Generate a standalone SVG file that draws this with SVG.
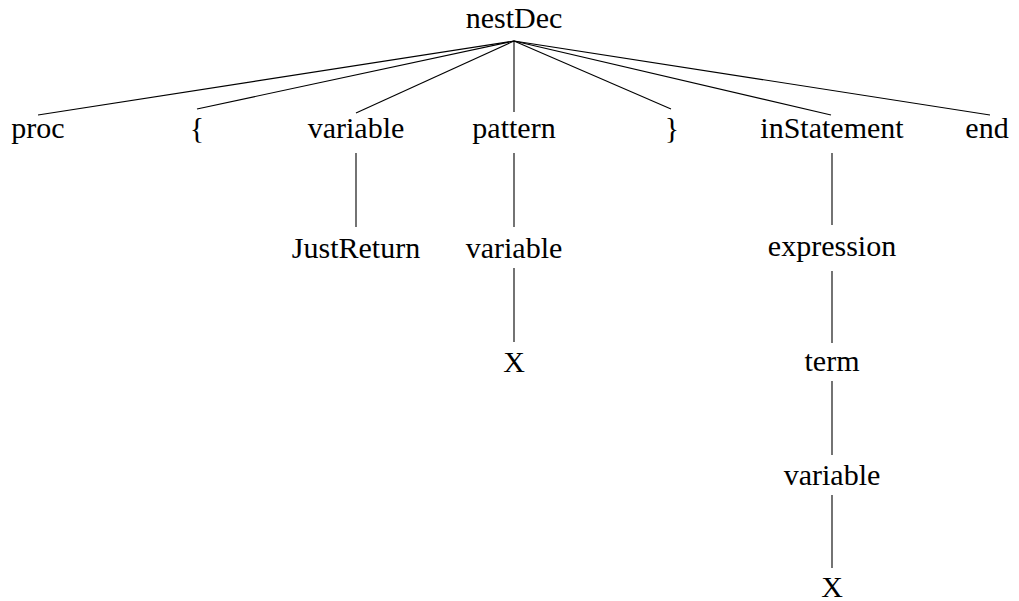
<svg xmlns="http://www.w3.org/2000/svg" width="1019" height="601" viewBox="0 0 1019 601">
<style>
text{font-family:"Liberation Serif","DejaVu Serif",serif;font-size:30px;fill:#000;text-anchor:middle}
.e line{stroke:#000;stroke-width:1.1}
</style>
<rect width="1019" height="601" fill="#fff"/>
<g class="e" id="connectors">
<line x1="514" y1="41" x2="38" y2="115"/>
<line x1="514" y1="41" x2="197" y2="109"/>
<line x1="514" y1="41" x2="356" y2="113"/>
<line x1="514" y1="41" x2="514" y2="112"/>
<line x1="514" y1="41" x2="671" y2="109"/>
<line x1="514" y1="41" x2="831" y2="115"/>
<line x1="514" y1="41" x2="990" y2="115"/>
<line x1="356" y1="153" x2="356" y2="227"/>
<line x1="514" y1="153" x2="514" y2="227"/>
<line x1="514" y1="268" x2="514" y2="342"/>
<line x1="832" y1="153" x2="832" y2="225"/>
<line x1="832" y1="271" x2="832" y2="343"/>
<line x1="832" y1="381" x2="832" y2="455"/>
<line x1="832" y1="495" x2="832" y2="568"/>
</g>
<g id="n-nestDec"><text x="514" y="28">nestDec</text></g>
<g id="n-proc"><text x="38" y="138">proc</text></g>
<g id="n-lbrace"><text x="197" y="138">{</text></g>
<g id="n-variable1"><text x="356" y="138">variable</text></g>
<g id="n-pattern"><text x="514" y="138">pattern</text></g>
<g id="n-rbrace"><text x="672" y="138">}</text></g>
<g id="n-inStatement"><text x="832" y="138">inStatement</text></g>
<g id="n-end"><text x="987" y="138">end</text></g>
<g id="n-JustReturn"><text x="356" y="258">JustReturn</text></g>
<g id="n-variable2"><text x="514" y="258">variable</text></g>
<g id="n-X1"><text x="514" y="372">X</text></g>
<g id="n-expression"><text x="832" y="256">expression</text></g>
<g id="n-term"><text x="832" y="371">term</text></g>
<g id="n-variable3"><text x="832" y="485">variable</text></g>
<g id="n-X2"><text x="832" y="597">X</text></g>
</svg>
